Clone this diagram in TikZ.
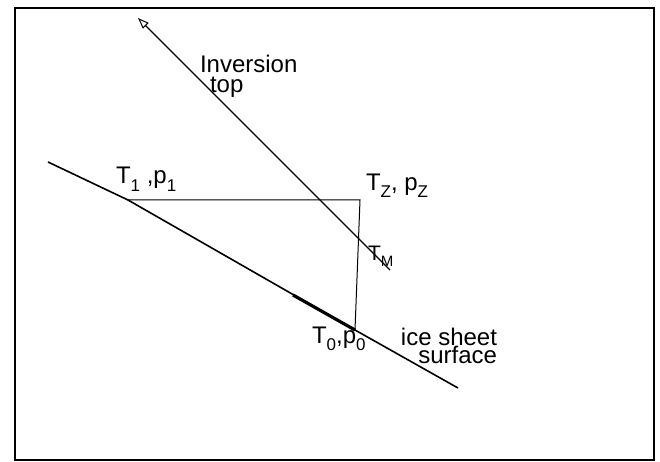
\documentclass[tikz,border=0pt]{standalone}
\usepackage{fontspec}
\setmainfont{Liberation Sans}
\usetikzlibrary{arrows.meta}
\newcommand\sbs[1]{\raisebox{-0.33em}{\fontsize{17}{17}\selectfont #1}}
\newcommand\sbm[1]{\raisebox{-0.3em}{\fontsize{15}{15}\selectfont #1}}
\tikzset{
  lbl/.style={inner sep=0pt, outer sep=0pt, font=\fontsize{24}{24}\selectfont},
  icel/.style={line width=1.6pt},
  thinl/.style={line width=1pt},
  thickseg/.style={line width=3.2pt},
  invl/.style={line width=1.3pt},
  frame/.style={line width=1.4pt}
}
\begin{document}
\begin{tikzpicture}[x=1pt,y=-1pt]
\useasboundingbox (0,0) rectangle (660,462);
\draw[frame] (15,8) rectangle (654,460);
% points
\coordinate (A) at (48,162);
\coordinate (P1) at (128,200);
\coordinate (P0) at (355,330);
\coordinate (B) at (458,388);
\coordinate (PZ) at (360,200);
\coordinate (K) at (293,295);
\coordinate (TM) at (390,270);
\coordinate (TT) at (138,18);
% lines
\draw[icel] (A) -- (P1) -- (P0) -- (B);
\draw[thinl] (P1) -- (PZ) -- (P0);
\draw[thickseg] (K) -- (P0);
\draw[invl, -{Triangle[open,length=11pt,width=8pt,line width=1pt]}] (TM) -- (TT);
% labels
\node[lbl, anchor=north west, align=left, font=\fontsize{24}{20}\selectfont] (inv) at (200,55)
  {Inversion\\\hspace{10pt}top};
\node[lbl, anchor=base west] (t1) at (116,184) {T\sbs{1} ,p\sbs{1}};
\node[lbl, anchor=base west] (tz) at (366,190) {T\sbs{Z}, p\sbs{Z}};
\node[lbl, anchor=base west, font=\fontsize{21}{21}\selectfont] (tm) at (368,260) {T\sbm{M}};
\node[lbl, anchor=base west] (t0) at (312,343) {T\sbs{0},p\sbs{0}};
\node[lbl, anchor=north east, align=right, font=\fontsize{24}{18}\selectfont] (ice) at (497,328)
  {ice sheet\\surface};
\end{tikzpicture}
\end{document}
